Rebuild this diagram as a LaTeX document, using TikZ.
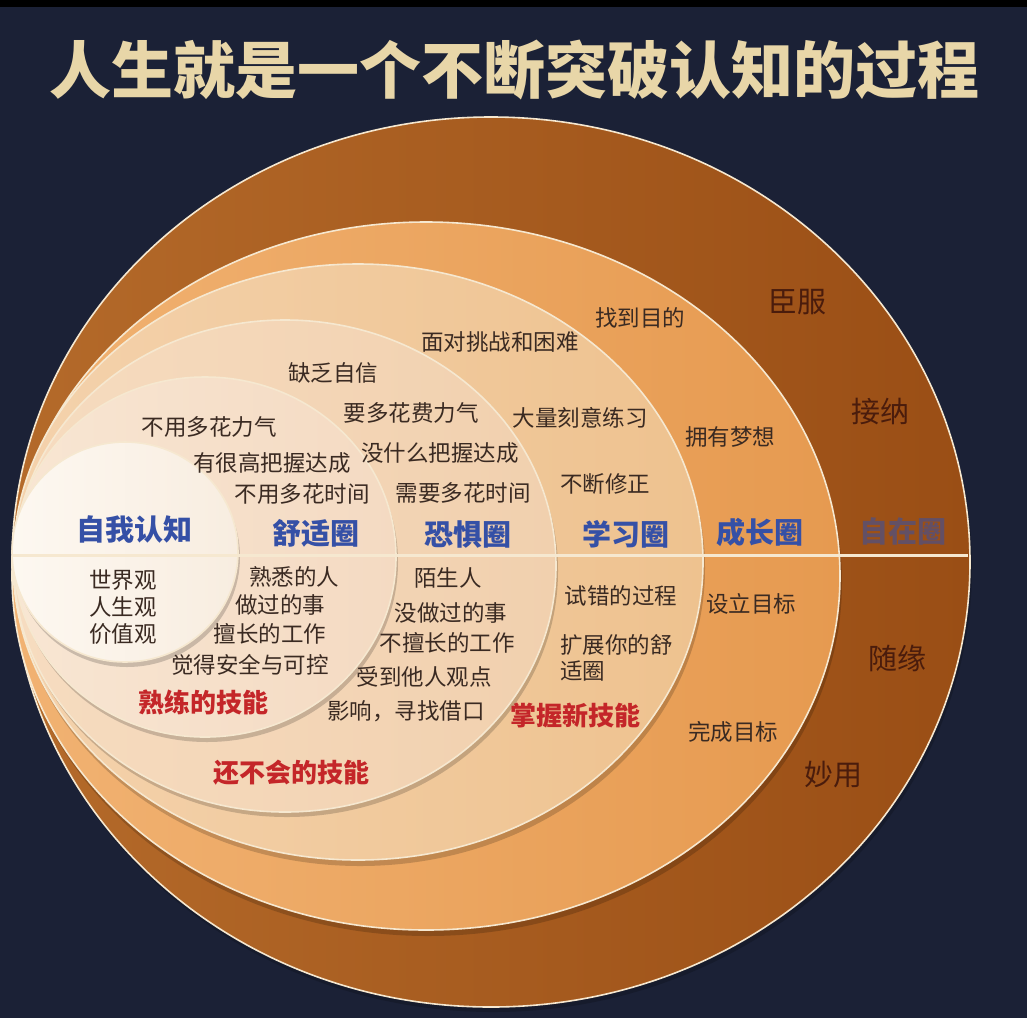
\documentclass[tikz,border=0pt]{standalone}
\usepackage{fontspec}
\newfontfamily\cjk{Noto Sans CJK SC}
\usetikzlibrary{calc}
\definecolor{BgClr}{HTML}{1B2136}
\definecolor{TitleClr}{HTML}{E8D6A8}
\definecolor{EdgeClr}{HTML}{F6E8D0}
\definecolor{RingA}{HTML}{B46A2A}
\definecolor{RingAd}{HTML}{9A4E15}
\definecolor{RingB}{HTML}{F1B272}
\definecolor{RingBd}{HTML}{E69A50}
\definecolor{RingC}{HTML}{F4D2AC}
\definecolor{RingCd}{HTML}{EEC28F}
\definecolor{RingD}{HTML}{F6DCC0}
\definecolor{RingDd}{HTML}{F1D0AE}
\definecolor{RingE}{HTML}{F8E6D3}
\definecolor{RingEd}{HTML}{F4DAC2}
\definecolor{RingF}{HTML}{FDF8F1}
\definecolor{RingFd}{HTML}{F8EDE0}
\definecolor{TxtClr}{HTML}{3A2A22}
\definecolor{BlueClr}{HTML}{3550A6}
\definecolor{RedClr}{HTML}{C42629}
\definecolor{DeepClr}{HTML}{4A1C0C}

\begin{document}
\begin{tikzpicture}[x=1pt,y=-1pt,
  ring/.style={draw=EdgeClr,line width=1.6pt},
  shadowring/.style={fill=black,fill opacity=0.18},
  divider/.style={draw=EdgeClr,line width=3pt},
  lbl/.style={inner sep=0pt,text=TxtClr,font=\cjk\fontsize{22.5}{22.5}\selectfont},
  zone/.style={inner sep=0pt,text=BlueClr,font=\cjk\bfseries\fontsize{29}{29}\selectfont},
  skill/.style={inner sep=0pt,text=RedClr,font=\cjk\bfseries\fontsize{26}{26}\selectfont},
  stance/.style={inner sep=0pt,text=DeepClr,font=\cjk\fontsize{29}{29}\selectfont}]
\useasboundingbox (0,0) rectangle (1027,1018);
\fill[BgClr] (0,0) rectangle (1027,1018);
\fill[black] (0,0) rectangle (1027,7);

% title
\node (title) [inner sep=0pt,text=TitleClr,font=\cjk\bfseries\fontsize{62}{62}\selectfont]
  at (514,70) {人生就是一个不断突破认知的过程};

% rings, outer to inner
\fill[shadowring] (493,567) ellipse [x radius=479,y radius=445];
\draw[ring,left color=RingA,right color=RingAd] (491,562) ellipse [x radius=479,y radius=445];
\fill[shadowring] (428,582) ellipse [x radius=414,y radius=354];
\draw[ring,left color=RingB,right color=RingBd] (426,576) ellipse [x radius=414,y radius=354];
\fill[shadowring] (360,568) ellipse [x radius=345,y radius=298];
\draw[ring,left color=RingC,right color=RingCd] (358,562) ellipse [x radius=345,y radius=298];
\fill[shadowring] (287,571) ellipse [x radius=271,y radius=246];
\draw[ring,left color=RingD,right color=RingDd] (285,566) ellipse [x radius=271,y radius=246];
\fill[shadowring] (207,562) ellipse [x radius=191,y radius=180];
\draw[ring,left color=RingE,right color=RingEd] (205,557) ellipse [x radius=191,y radius=180];
\fill[shadowring] (127,557) ellipse [x radius=113,y radius=110];
\draw[ring,left color=RingF,right color=RingFd] (125,552) ellipse [x radius=113,y radius=110];

% dividing line
\coordinate (divL) at (13,555);
\coordinate (divR) at (968,555);
\draw[divider] (divL) -- (divR);

% self
\node (self)  [zone] at (134,530) {自我认知};
\node (world) [lbl] at (123,580) {世界观};
\node (life)  [lbl] at (123,607) {人生观};
\node (value) [lbl] at (123,634) {价值观};

% comfort
\node (comfort) [zone] at (316,533) {舒适圈};
\node (c1) [lbl] at (209,427) {不用多花力气};
\node (c2) [lbl] at (272,463) {有很高把握达成};
\node (c3) [lbl] at (302,494) {不用多花时间};
\node (c4) [lbl] at (294,577) {熟悉的人};
\node (c5) [lbl] at (280,605) {做过的事};
\node (c6) [lbl] at (270,634) {擅长的工作};
\node (c7) [lbl] at (250,665) {觉得安全与可控};
\node (cskill) [skill] at (203,702) {熟练的技能};

% fear
\node (fear) [zone] at (468,535) {恐惧圈};
\node (f1) [lbl] at (333,373) {缺乏自信};
\node (f2) [lbl] at (411,413) {要多花费力气};
\node (f3) [lbl] at (440,453) {没什么把握达成};
\node (f4) [lbl] at (463,493) {需要多花时间};
\node (f5) [lbl] at (448,578) {陌生人};
\node (f6) [lbl] at (451,613) {没做过的事};
\node (f7) [lbl] at (447,643) {不擅长的工作};
\node (f8) [lbl] at (424,677) {受到他人观点};
\node (f9) [lbl] at (406,711) {影响，寻找借口};
\node (fskill) [skill] at (291,773) {还不会的技能};

% learning
\node (learn) [zone] at (626,534) {学习圈};
\node (l1) [lbl] at (500,342) {面对挑战和困难};
\node (l2) [lbl] at (580,418) {大量刻意练习};
\node (l3) [lbl] at (605,484) {不断修正};
\node (l4) [lbl] at (621,596) {试错的过程};
\node (l5) [lbl,anchor=west] at (560,645) {扩展你的舒};
\node (l6) [lbl,anchor=west] at (560,671) {适圈};
\node (lskill) [skill] at (575,716) {掌握新技能};

% growth
\node (grow) [zone] at (760,532) {成长圈};
\node (g1) [lbl] at (640,318) {找到目的};
\node (g2) [lbl] at (730,437) {拥有梦想};
\node (g3) [lbl] at (751,604) {设立目标};
\node (g4) [lbl] at (733,732) {完成目标};

% outer ring
\node (outer) [zone,text opacity=0.55] at (903,531) {自在圈};
\node (s1) [stance] at (797,302) {臣服};
\node (s2) [stance] at (880,411) {接纳};
\node (s3) [stance] at (897,658) {随缘};
\node (s4) [stance] at (833,775) {妙用};
\end{tikzpicture}
\end{document}
